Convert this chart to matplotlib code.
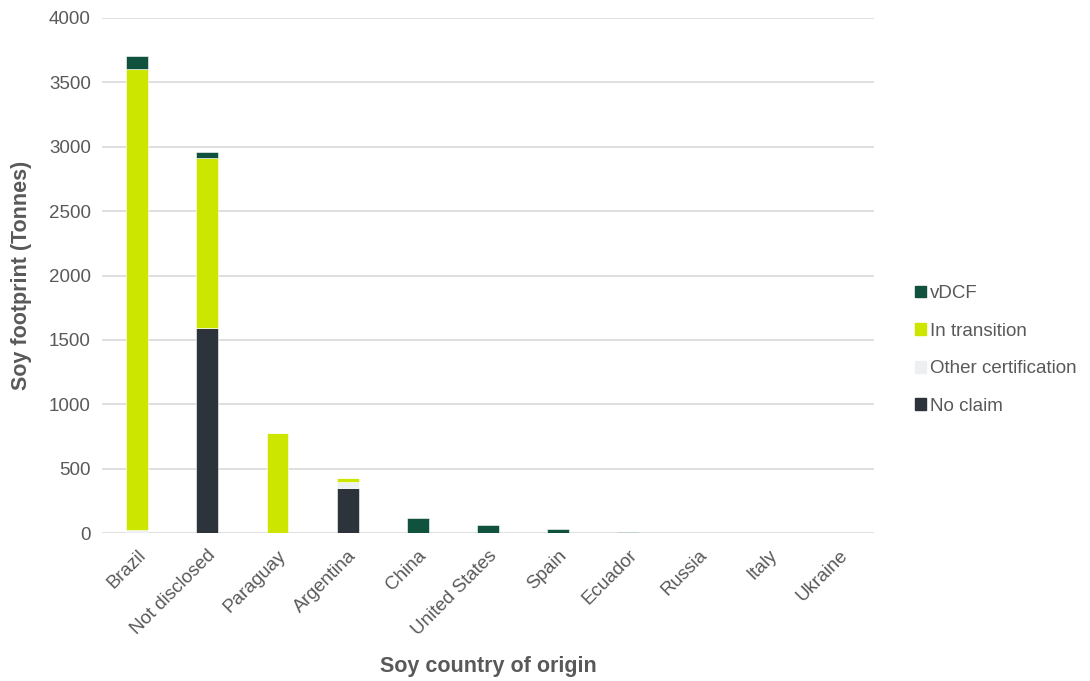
import matplotlib
matplotlib.use("Agg")
import matplotlib.pyplot as plt
import matplotlib.patches as mpatches
import numpy as np

plt.rcParams["font.family"] = ["Liberation Sans", "DejaVu Sans"]

countries = ["Brazil", "Not disclosed", "Paraguay", "Argentina", "China",
             "United States", "Spain", "Ecuador", "Russia", "Italy", "Ukraine"]
no_claim = [0, 1590, 0, 347, 0, 0, 0, 0, 0, 0, 0]
other_cert = [20, 0, 0, 47, 0, 0, 0, 0, 0, 0, 0]
in_transition = [3585, 1324, 775, 33, 0, 0, 0, 0, 0, 0, 0]
vdcf = [101, 46, 0, 0, 119, 60, 31, 10, 2, 1, 1]

series = [
    ("No claim", no_claim, "#2c333b"),
    ("Other certification", other_cert, "#edf0f3"),
    ("In transition", in_transition, "#cde600"),
    ("vDCF", vdcf, "#10523e"),
]

fig = plt.figure(figsize=(10.9, 6.81), dpi=100)
ax = fig.add_axes([102 / 1090, 148 / 681, 772 / 1090, 515 / 681])

x = np.arange(len(countries))
bottom = np.zeros(len(countries))
for name, vals, color in series:
    vals = np.array(vals, dtype=float)
    ax.bar(x, vals, bottom=bottom, width=0.31, color=color,
           edgecolor="white", linewidth=0.4, zorder=3)
    bottom += vals

ax.set_xlim(-0.5, len(countries) - 0.5)
ax.set_ylim(0, 4000)
ax.set_yticks(range(0, 4001, 500))
ax.grid(axis="y", color="#d9d9d9", linewidth=1.2, zorder=0)
for s in ax.spines.values():
    s.set_visible(False)
ax.tick_params(length=0, labelsize=13.5, colors="#595959")
ax.tick_params(axis="x", pad=10)
ax.tick_params(axis="y", pad=8)
ax.set_xticks(x)
ax.set_xticklabels(countries, rotation=45, ha="right", rotation_mode="anchor")

ax.set_xlabel("Soy country of origin", fontsize=15.5, fontweight="bold",
              color="#595959", labelpad=13)
ax.set_ylabel("Soy footprint (Tonnes)", fontsize=15.5, fontweight="bold",
              color="#595959", labelpad=12)

handles = [mpatches.Patch(color=c, label=n) for n, _, c in reversed(series)]
fig.legend(handles=handles, loc="center left", bbox_to_anchor=(898 / 1090, 1 - 350 / 681),
           frameon=False, fontsize=13.5, handlelength=0.6, handleheight=0.6,
           handletextpad=0.2, labelspacing=1.1, labelcolor="#595959")

fig.savefig("out.png", dpi=100)
